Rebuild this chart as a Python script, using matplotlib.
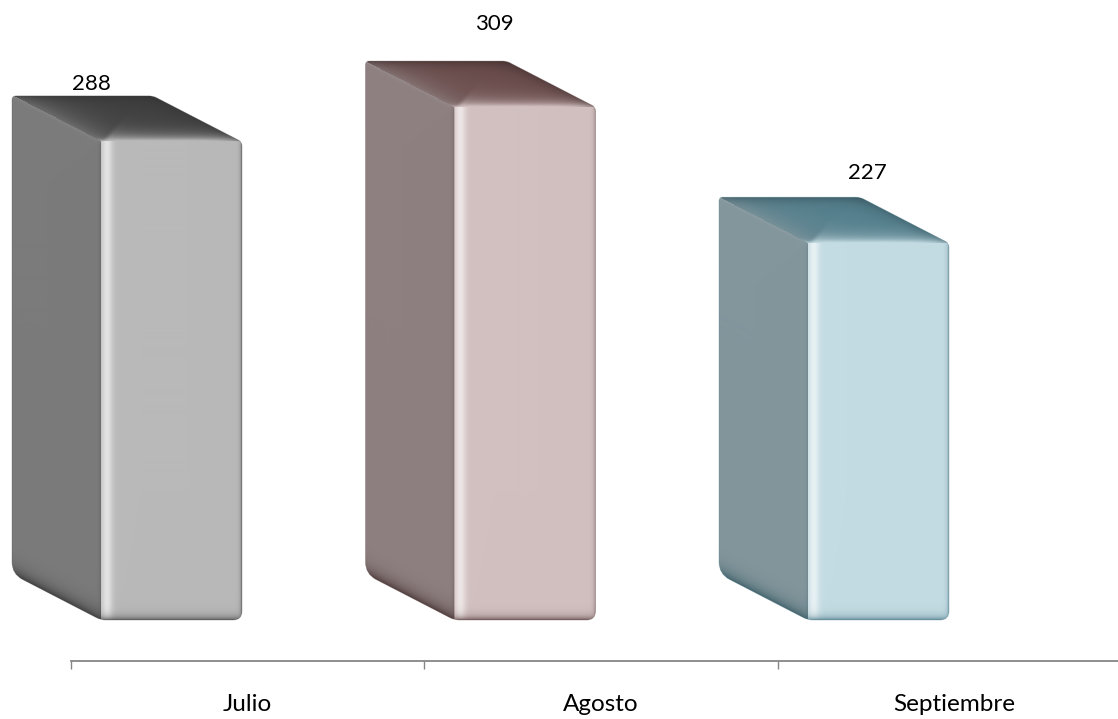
import numpy as np
import matplotlib
matplotlib.use('Agg')
import matplotlib.pyplot as plt
from matplotlib.path import Path
from matplotlib.patches import PathPatch

months = ['Julio', 'Agosto', 'Septiembre']
values = [288, 309, 227]

# face colours of each box, as rgb hex
front_colors = ['#b9b9b9', '#d2c0c0', '#c3dbe2']
side_colors = ['#7b7b7b', '#8e8080', '#83969c']
top_colors = ['#3f3f3f', '#6b4c4c', '#55808e']
dark_colors = ['#4a4a4a', '#5e4444', '#4f7c8a']

# label offsets from the category centre / bar top, in pixels
label_offsets = [(-156, 58), (-107, 83), (-87, 70)]

W, H = 1118, 719
STEP = 353.5       # pixels per category
UNIT = 1.66        # pixels per value unit
BASE = 620         # pixel row of value 0
CENTRE = 247.5     # pixel column of first category
DX, DY = 89, 46    # depth of the box
FW = 141           # front face width


def rgb(c):
    return np.array(matplotlib.colors.to_rgb(c))


def mix(a, b, w):
    return a[..., :] * (1 - w[..., None]) + b * w[..., None]


def box_image(bar_h, front, side, top, dark):
    # shaded picture of one box, pixel by pixel
    bw, bh = DX + FW, int(round(bar_h + DY))
    u, v = np.meshgrid(np.arange(bw) + 0.5, np.arange(bh) + 0.5)
    front, side, top, dark = rgb(front), rgb(side), rgb(top), rgb(dark)
    white = np.array([1.0, 1.0, 1.0])
    slope = DY / DX

    # front face
    img = np.ones((bh, bw, 3)) * front
    d = u - DX
    img = mix(img, white * 0.6 + front * 0.4, np.exp(-((d - 6) / 5.5) ** 2))
    img = mix(img, dark, np.exp(-np.clip(bh - v, 0, None) / 3.5) * 0.85)
    img = mix(img, dark, np.exp(-np.clip(bw - u, 0, None) / 1.5) * 0.7)

    # side face
    side_img = np.ones((bh, bw, 3)) * side
    e = (bh - DY + u * slope) - v
    side_img = mix(side_img, dark * 0.75, np.exp(-np.clip(e, 0, None) / 7.0) * 0.9)
    side_img = mix(side_img, dark * 0.8, np.exp(-np.clip(DX - u, 0, None) / 1.5) * 0.3)
    e2 = v - u * slope
    side_img = mix(side_img, white * 0.2 + side * 0.8, np.exp(-np.clip(e2, 0, None) / 2.0) * 0.4)
    is_side = u < DX
    img[is_side] = side_img[is_side]

    # top face
    top_img = np.ones((bh, bw, 3)) * top
    dl = u - v / slope
    top_img = mix(top_img, side, np.exp(-np.clip(dl, 0, None) / 30.0) * 0.75)
    # lighter band next to the front face, starts at a ridge from the inner corner
    ridge = np.clip((u - DX - (DY - v) * 0.85) / 6.0, 0, 1)
    band = np.exp(-np.clip(DY - v, 0, None) / 6.0) * ridge
    top_img = mix(top_img, front, band)
    top_img = mix(top_img, front, np.exp(-np.clip(DY - v, 0, None) / 1.5))
    top_img = mix(top_img, dark * 0.6, np.exp(-np.clip(v, 0, None) / 5.0) * 0.6)
    rd = (DX + FW - DX * 1.03 + v * 2) - u
    top_img = mix(top_img, dark * 0.7, np.exp(-np.clip(rd, 0, None) / 12.0) * 0.5)
    is_top = (v < DY) & (v < u * slope)
    img[is_top] = top_img[is_top]
    return np.clip(img, 0, 1)


def rounded(corners, radii):
    # closed outline with quadratic corners
    verts, codes = [], []
    n = len(corners)
    for i in range(n):
        p = np.array(corners[i], float)
        a = np.array(corners[i - 1], float)
        b = np.array(corners[(i + 1) % n], float)
        r = radii[i]
        p0 = p + (a - p) / np.linalg.norm(a - p) * r
        p1 = p + (b - p) / np.linalg.norm(b - p) * r
        verts += [p0, p, p1]
        codes += [Path.MOVETO if i == 0 else Path.LINETO, Path.CURVE3, Path.CURVE3]
    verts.append(verts[0])
    codes.append(Path.CLOSEPOLY)
    return Path(verts, codes)


fig = plt.figure(figsize=(W / 100, H / 100), dpi=100)
ax = fig.add_axes([0, 0, 1, 1])
plt.rcParams['font.family'] = 'Lato'
xlim = (-CENTRE / STEP, (W - CENTRE) / STEP)
ylim = ((BASE - H) / UNIT, BASE / UNIT)

for i, val in enumerate(values):
    left = i - (CENTRE - 12) / STEP   # left edge of the box
    bw = (DX + FW) / STEP
    bh = val + DY / UNIT
    img = box_image(val * UNIT, front_colors[i], side_colors[i], top_colors[i], dark_colors[i])
    im = ax.imshow(img, extent=(left, left + bw, 0, bh), aspect='auto',
                   interpolation='bilinear', zorder=2)
    dx, dy = DX / STEP, DY / UNIT
    corners = [(left, bh), (left + bw - dx, bh), (left + bw, val),
               (left + bw, 0), (left + dx, 0), (left, dy)]
    # radii worked out in pixels, so build the outline in pixels first
    px = [((x - left) * STEP, y * UNIT) for x, y in corners]
    outline = rounded(px, [4, 4, 4, 9, 5, 12])
    verts = outline.vertices.copy()
    verts[:, 0] = verts[:, 0] / STEP + left
    verts[:, 1] = verts[:, 1] / UNIT
    outline = Path(verts, outline.codes)
    im.set_clip_path(outline, ax.transData)
    ax.add_patch(PathPatch(outline, fc='none', ec=dark_colors[i], lw=0.5, alpha=0.4, zorder=3))

    ox, oy = label_offsets[i]
    ax.annotate(str(val), xy=(i, val), xytext=(ox, oy), textcoords='offset pixels',
                ha='center', va='center', fontsize=16, color='black', family='Lato')

ax.set_xlim(*xlim)
ax.set_ylim(*ylim)

for s in ['top', 'left', 'right']:
    ax.spines[s].set_visible(False)
ax.spines['bottom'].set_position(('data', (BASE - 661) / UNIT))
ax.spines['bottom'].set_bounds(-0.5, xlim[1])
ax.spines['bottom'].set_color('#868686')
ax.spines['bottom'].set_linewidth(1.3)
ax.patch.set_visible(False)
ax.set_yticks([])
ax.set_xticks(range(len(months)))
ax.set_xticklabels(months, fontsize=17.5, family='Lato')
ax.tick_params(axis='x', which='major', length=0, pad=23.5)
ax.set_xticks([-0.5, 0.5, 1.5], minor=True)
ax.tick_params(axis='x', which='minor', length=5.5, width=1.0, color='#868686')

fig.savefig('out.png', dpi=100)
